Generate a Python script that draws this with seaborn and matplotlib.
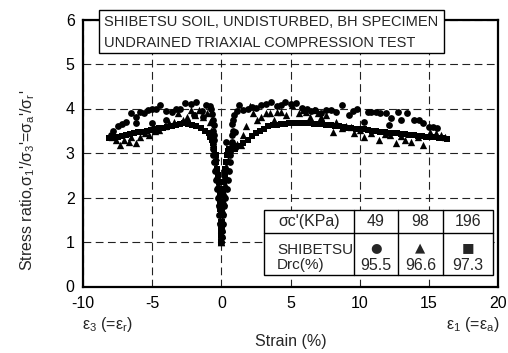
import matplotlib
matplotlib.use("Agg")
import matplotlib.pyplot as plt
import seaborn as sns
import pandas as pd
from matplotlib.patches import Rectangle
from matplotlib.lines import Line2D

# ---------------- data ----------------
c49_strain = [0, -0.03, -0.06, -0.1, -0.15, -0.2, -0.26, -0.32, -0.38, -0.45, -0.52, -0.58, -0.62, -0.6,
              -0.56, -0.55, -0.6, -0.5, -0.58, -0.65, -0.72, -0.85, -1.1, -1.4, -1.8, -2.2, -2.6, -3.0, -3.3,
              -3.6, -4.0, -4.4, -4.7, -5.0, -5.3, -5.6, -5.9, -6.2, -6.5, -6.9, -7.2, -7.5, -7.8, -8.0,
              -6.2, -5.0, -4.0, -2.0, -1.3,
              0, 0.03, 0.06, 0.1, 0.15, 0.22, 0.3, 0.38, 0.45, 0.52, 0.6, 0.66, 0.72, 0.78, 0.8, 0.85, 0.75,
              0.85, 0.95, 1.1, 1.3, 1.6, 1.9, 2.2, 2.5, 2.9, 3.2, 3.6, 4.0, 4.3, 4.6, 5.0, 5.4, 5.8, 6.2, 6.5,
              6.8, 7.2, 7.6, 7.9, 8.3, 8.7, 9.2, 9.5, 9.8, 10.3, 10.6, 10.8, 11.2, 11.5, 11.9, 12.1, 12.3,
              12.8, 13.0, 13.4, 13.9, 14.3, 14.6, 15.0, 15.3, 15.6, 0.35, 0.8, 1.0]
c49_ratio = [1.0, 1.12, 1.25, 1.4, 1.6, 1.8, 2.0, 2.2, 2.4, 2.6, 2.8, 2.95, 3.1, 3.2,
             3.3, 3.4, 3.5, 3.62, 3.75, 3.88, 4.0, 4.05, 4.08, 3.95, 4.15, 4.1, 4.12, 3.98, 4.0,
             3.93, 3.95, 4.08, 3.99, 3.99, 3.97, 3.9, 3.93, 3.8, 3.89, 3.69, 3.65, 3.6, 3.5, 3.4,
             3.67, 3.67, 3.75, 3.85, 3.8,
             1.0, 1.12, 1.25, 1.4, 1.6, 1.8, 2.0, 2.2, 2.4, 2.6, 2.8, 2.95, 3.1, 3.25, 3.4, 3.5, 3.65,
             3.75, 3.85, 3.95, 4.08, 3.97, 4.0, 4.04, 4.02, 4.08, 4.1, 4.15, 4.05, 4.08, 4.15, 4.1, 4.12, 4.02,
             4.0, 3.95, 3.97, 3.9, 3.96, 3.97, 3.92, 4.08, 3.85, 3.95, 3.99, 3.7, 3.92, 3.92, 3.92, 3.9, 3.89,
             3.63, 3.78, 3.92, 3.74, 3.89, 3.74, 3.74, 3.67, 3.59, 3.59, 3.56, 3.25, 3.2, 3.47]

t98_strain = [0, -0.02, -0.05, -0.08, -0.12, -0.16, -0.2, -0.25, -0.3, -0.36, -0.42, -0.5, -0.58, -0.66,
              -0.75, -0.85, -1.0, -1.3, -1.6, -1.9, -2.2, -2.5, -2.8, -3.1, -3.4, -3.8, -4.1, -4.5, -4.8,
              -5.2, -5.5, -5.9, -6.2, -6.5, -6.7, -7.0, -7.3, -7.6, -7.9,
              0, 0.02, 0.05, 0.08, 0.12, 0.16, 0.2, 0.25, 0.3, 0.36, 0.45, 0.55, 0.65, 0.75, 0.9, 1.0, 1.1,
              1.4, 1.6, 1.8, 2.1, 2.3, 2.6, 2.9, 3.2, 3.5, 3.8, 4.0, 4.3, 4.7, 5.1, 5.6, 5.9, 6.1, 6.4, 6.7,
              7.0, 7.2, 7.6, 8.1, 8.3, 8.7, 9.0, 9.4, 9.6, 10.0, 10.3, 10.8, 11.4, 11.8, 12.2, 12.6, 13.0,
              13.3, 13.7, 14.2, 14.6, 15.1, 15.5, 15.9, 16.2]
t98_ratio = [1.0, 1.15, 1.3, 1.5, 1.7, 1.9, 2.1, 2.3, 2.5, 2.7, 2.9, 3.05, 3.2, 3.35,
             3.5, 3.7, 3.89, 3.8, 3.97, 3.85, 3.97, 3.8, 3.75, 3.89, 3.7, 3.67, 3.6, 3.52, 3.5,
             3.4, 3.45, 3.35, 3.22, 3.35, 3.25, 3.3, 3.18, 3.3, 3.35,
             1.0, 1.15, 1.3, 1.5, 1.7, 1.9, 2.1, 2.3, 2.5, 2.7, 2.85, 3.0, 3.1, 3.18, 3.2, 3.15, 3.2,
             3.18, 3.4, 3.6, 4.06, 3.89, 3.75, 3.8, 3.89, 3.9, 3.75, 3.92, 3.92, 3.85, 4.08, 3.89, 3.97, 3.92,
             3.8, 3.97, 3.89, 3.81, 3.85, 3.47, 3.7, 3.56, 3.6, 3.59, 3.45, 3.52, 3.37, 3.45, 3.29, 3.42, 3.4,
             3.22, 3.38, 3.29, 3.25, 3.35, 3.18, 3.47, 3.45, 3.4, 3.37]

s196_strain = [0, -0.01, -0.02, -0.04, -0.06, -0.08, -0.1, -0.13, -0.16, -0.2, -0.24, -0.29, -0.35, -0.42,
               -0.5, -0.6, -0.7, -0.8, -0.9, -1.2, -1.5, -1.8, -2.1, -2.4, -2.7, -3.0, -3.3, -3.6, -3.9,
               -4.2, -4.5, -4.8, -5.1, -5.4, -5.7, -6.0, -6.3, -6.6, -6.9, -7.2, -7.5, -7.8, -8.1,
               0, 0.01, 0.02, 0.04, 0.06, 0.08, 0.1, 0.13, 0.16, 0.2, 0.24, 0.29, 0.35, 0.42, 0.5, 0.58,
               0.65, 0.8, 1.0, 1.3, 1.6, 1.9, 2.2, 2.5, 2.8, 3.1, 3.4, 3.7, 4.0, 4.3, 4.6, 4.9, 5.2, 5.5,
               5.8, 6.1, 6.4, 6.7, 7.0, 7.3, 7.6, 7.9, 8.2, 8.5, 8.8, 9.1, 9.4, 9.7, 10.0, 10.3, 10.6,
               10.9, 11.2, 11.5, 11.8, 12.1, 12.4, 12.7, 13.0, 13.3, 13.6, 13.9, 14.2, 14.5, 14.8, 15.1,
               15.4, 15.7, 16.0, 16.3]
s196_ratio = [1.0, 1.15, 1.3, 1.45, 1.6, 1.75, 1.9, 2.05, 2.2, 2.35, 2.5, 2.65, 2.8, 2.95,
              3.1, 3.22, 3.3, 3.37, 3.45, 3.5, 3.56, 3.6, 3.63, 3.66, 3.67, 3.65, 3.62, 3.6, 3.58,
              3.57, 3.56, 3.53, 3.51, 3.5, 3.48, 3.47, 3.45, 3.43, 3.41, 3.39, 3.37, 3.35, 3.33,
              1.0, 1.15, 1.3, 1.45, 1.6, 1.75, 1.9, 2.05, 2.2, 2.35, 2.5, 2.65, 2.8, 2.95, 3.05, 3.1,
              3.1, 3.08, 3.1, 3.15, 3.22, 3.3, 3.38, 3.44, 3.5, 3.55, 3.6, 3.62, 3.64, 3.65, 3.66, 3.67, 3.67, 3.68,
              3.68, 3.67, 3.67, 3.66, 3.66, 3.65, 3.64, 3.63, 3.61, 3.6, 3.59, 3.57, 3.56, 3.55, 3.54, 3.53, 3.52,
              3.5, 3.49, 3.48, 3.47, 3.46, 3.45, 3.44, 3.43, 3.42, 3.41, 3.4, 3.39, 3.38, 3.37, 3.36,
              3.35, 3.34, 3.33, 3.32]

x_ticks = [-10, -5, 0, 5, 10, 15, 20]
y_ticks = [0, 1, 2, 3, 4, 5, 6]
pressures = ["49", "98", "196"]
densities = ["95.5", "96.6", "97.3"]
title_lines = ["SHIBETSU SOIL, UNDISTURBED, BH SPECIMEN", "UNDRAINED TRIAXIAL COMPRESSION TEST"]

# ---------------- styling ----------------
sns.set_style("white")
plt.rcParams["font.family"] = ["Liberation Sans", "DejaVu Sans"]
plt.rcParams["mathtext.fontset"] = "custom"
plt.rcParams["mathtext.rm"] = "Liberation Sans"
plt.rcParams["mathtext.it"] = "Liberation Sans:italic"

FS = 11.5

df = pd.concat([
    pd.DataFrame({"strain": c49_strain, "ratio": c49_ratio, "series": "49"}),
    pd.DataFrame({"strain": t98_strain, "ratio": t98_ratio, "series": "98"}),
    pd.DataFrame({"strain": s196_strain, "ratio": s196_ratio, "series": "196"}),
], ignore_index=True)

W, H = 508, 353
fig = plt.figure(figsize=(W / 100, H / 100), dpi=100)
L, R, T, B = 83, 498, 19.5, 286.5
ax = fig.add_axes([L / W, 1 - B / H, (R - L) / W, (B - T) / H])

marker_map = {"49": ("o", 24), "98": ("^", 28), "196": ("s", 18)}
for key, (mk, sz) in marker_map.items():
    sns.scatterplot(data=df[df["series"] == key], x="strain", y="ratio", marker=mk, s=sz,
                    color="black", edgecolor="black", linewidth=0, legend=False, ax=ax, zorder=3)

ax.set_xlim(-10, 20)
ax.set_ylim(0, 6)
ax.set_xticks(x_ticks)
ax.set_yticks(y_ticks)
ax.set_xticklabels([str(v) for v in x_ticks])
ax.set_yticklabels([str(v) for v in y_ticks])
ax.tick_params(axis="both", direction="in", length=4, width=1, labelsize=FS, colors="black")
ax.tick_params(axis="x", pad=7)
ax.tick_params(axis="y", pad=6)
ax.grid(True, color="#222222", linestyle=(0, (7, 4)), linewidth=0.8)
for sp in ax.spines.values():
    sp.set_linewidth(1.6)
    sp.set_color("black")

ax.set_xlabel("Strain (%)", fontsize=FS)
ax.xaxis.set_label_coords(0.5, (B - 334) / (B - T))
ax.set_ylabel(r"Stress ratio,σ$_\mathrm{1}$'/σ$_\mathrm{3}$'=σ$_\mathrm{a}$'/σ$_\mathrm{r}$'", fontsize=FS)
ax.yaxis.set_label_coords((37 - L) / (R - L), (B - 180) / (B - T))

ax.text(-10.1, -0.86, r"ε$_\mathrm{3}$ (=ε$_\mathrm{r}$)", fontsize=FS, ha="left", va="center",
        transform=ax.transData)
ax.text(20.1, -0.86, r"ε$_\mathrm{1}$ (=ε$_\mathrm{a}$)", fontsize=FS, ha="right", va="center",
        transform=ax.transData)

# ---------------- table ----------------
def axx(px):
    return (px - L) / (R - L)

def axy(py):
    return (B - py) / (B - T)

tl, tr = axx(264), axx(493)
tt, tm, tb = axy(210), axy(233), axy(275)
cols = [axx(354), axx(398), axx(443)]
ax.add_patch(Rectangle((tl, tb), tr - tl, tt - tb, transform=ax.transAxes, facecolor="white",
                       edgecolor="black", linewidth=1.0, zorder=6))
ax.add_line(Line2D([tl, tr], [tm, tm], transform=ax.transAxes, color="black", linewidth=1.0, zorder=7))
for cx in cols:
    ax.add_line(Line2D([cx, cx], [tb, tt], transform=ax.transAxes, color="black", linewidth=1.0, zorder=7))
hy = (tt + tm) / 2
ax.text((tl + cols[0]) / 2, hy, "σc'(KPa)", transform=ax.transAxes, ha="center", va="center",
        fontsize=FS, zorder=8)
centers = [(cols[0] + cols[1]) / 2, (cols[1] + cols[2]) / 2, (cols[2] + tr) / 2]
glyphs = ["●", "▲", "■"]
for cx, p, d, g in zip(centers, pressures, densities, glyphs):
    ax.text(cx, hy, p, transform=ax.transAxes, ha="center", va="center", fontsize=FS, zorder=8)
    ax.text(cx, axy(248), g, transform=ax.transAxes, ha="center", va="center", fontsize=9.5,
            family="DejaVu Sans", zorder=8)
    ax.text(cx, axy(265), d, transform=ax.transAxes, ha="center", va="center", fontsize=FS, zorder=8)
ax.text(axx(277), axy(250), "SHIBETSU", transform=ax.transAxes, ha="left", va="center", fontsize=11, zorder=8)
ax.text(axx(277), axy(265), "Drc(%)", transform=ax.transAxes, ha="left", va="center", fontsize=11, zorder=8)

# ---------------- title box ----------------
t1 = fig.text(104 / W, 1 - 22 / H, title_lines[0], fontsize=10.5, ha="left", va="center", zorder=11)
t2 = fig.text(104 / W, 1 - 43 / H, title_lines[1], fontsize=10.5, ha="left", va="center", zorder=11)
fig.canvas.draw()
r = fig.canvas.get_renderer()
right_px = max(t1.get_window_extent(r).x1, t2.get_window_extent(r).x1) + 6
fig.patches.append(Rectangle((99 / W, 1 - 53 / H), (right_px - 99) / W, 43 / H, transform=fig.transFigure,
                             facecolor="white", edgecolor="black", linewidth=1.0, zorder=10))

fig.savefig("out.png", dpi=100)
